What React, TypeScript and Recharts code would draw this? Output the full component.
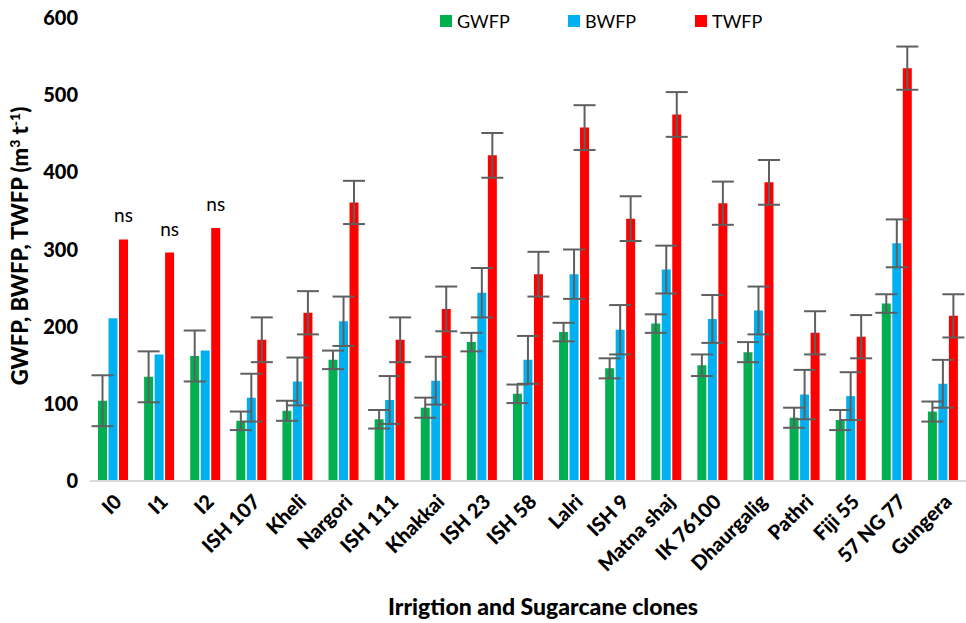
import React from 'react';
import { Bar, BarChart, ErrorBar, LabelList, XAxis, YAxis } from 'recharts';

const clones = ['I0', 'I1', 'I2', 'ISH 107', 'Kheli', 'Nargori', 'ISH 111', 'Khakkai', 'ISH 23', 'ISH 58', 'Lalri', 'ISH 9', 'Matna shaj', 'IK 76100', 'Dhaurgalig', 'Pathri', 'Fiji 55', '57 NG 77', 'Gungera'];
const gwfp = [104, 135, 162, 78, 91, 157, 80, 95, 180, 113, 193, 146, 204, 150, 167, 82, 79, 230, 90];
const gwfpErr = [33, 33, 33, 12, 13, 12, 12, 13, 12, 12, 12, 13, 12, 14, 13, 13, 13, 12, 13];
const bwfp = [211, 164, 169, 108, 129, 207, 105, 130, 244, 157, 268, 196, 274, 210, 221, 112, 110, 308, 126];
const bwfpErr = [0, 0, 0, 31, 31, 32, 31, 31, 32, 31, 32, 32, 31, 31, 31, 32, 31, 31, 31];
const twfp = [313, 296, 328, 183, 218, 361, 183, 223, 422, 268, 458, 340, 475, 360, 387, 192, 187, 535, 214];
const twfpErr = [0, 0, 0, 29, 28, 28, 29, 29, 29, 29, 29, 29, 29, 28, 29, 28, 28, 28, 28];
const notes = ['ns', 'ns', 'ns', '', '', '', '', '', '', '', '', '', '', '', '', '', '', '', ''];
const yTicks = [0, 100, 200, 300, 400, 500, 600];

const series = [
  { key: 'GWFP', err: 'gErr', color: '#00b050' },
  { key: 'BWFP', err: 'bErr', color: '#00b0f0' },
  { key: 'TWFP', err: 'tErr', color: '#ff0000' },
];

const data = clones.map((name, i) => ({
  name,
  GWFP: gwfp[i],
  gErr: gwfpErr[i],
  BWFP: bwfp[i],
  bErr: bwfpErr[i],
  TWFP: twfp[i],
  tErr: twfpErr[i],
  note: notes[i],
}));

const font = 'Lato, "Open Sans", sans-serif';

const XTick = ({ x, y, payload }: any) => (
  <g transform={`translate(${x},${y})`}>
    <text x={10} y={14} textAnchor="end" transform="rotate(-45 10 14)" fontFamily={font} fontWeight={900} fontSize={20} fill="#000">
      {payload.value}
    </text>
  </g>
);

const YLabel = () => (
  <text transform="translate(28,246) rotate(-90)" textAnchor="middle" fontFamily={font} fontWeight={900} fontSize={22} fill="#000">
    GWFP, BWFP, TWFP (m<tspan baselineShift="super" fontSize={14}>3</tspan> t<tspan baselineShift="super" fontSize={14}>-1</tspan>)
  </text>
);

const NoteLabel = ({ x, y, width, value }: any) =>
  value ? (
    <text x={x + width / 2} y={y - 17} textAnchor="middle" fontFamily={font} fontSize={19} fill="#000">
      {value}
    </text>
  ) : null;

const legendLeft = [440, 568, 695];

export default function App() {
  return (
    <div style={{ position: 'absolute', left: 0, top: 0, width: 966, height: 623, background: '#fff' }}>
      <BarChart width={966} height={623} data={data} margin={{ top: 18, right: 0, left: 0, bottom: 0 }} barSize={9} barGap={1.5}>
        <XAxis
          dataKey="name"
          interval={0}
          height={142}
          tick={<XTick />}
          tickLine={false}
          axisLine={{ stroke: '#d9d9d9', strokeWidth: 2 }}
          label={{ value: 'Irrigtion and Sugarcane clones', position: 'insideBottom', offset: 8, fontFamily: font, fontWeight: 900, fontSize: 23, fill: '#000', dx: 15 }}
        />
        <YAxis
          domain={[0, 600]}
          ticks={yTicks}
          width={90}
          axisLine={false}
          tickLine={false}
          tick={{ fontFamily: font, fontWeight: 900, fontSize: 20, fill: '#000' }}
          tickMargin={6}
          label={<YLabel />}
        />
        {series.map((s) => (
          <Bar key={s.key} dataKey={s.key} fill={s.color} isAnimationActive={false}>
            <ErrorBar dataKey={s.err} width={11} stroke="#5f5f5f" strokeWidth={2} />
            {s.key === 'TWFP' && <LabelList dataKey="note" content={<NoteLabel />} />}
          </Bar>
        ))}
      </BarChart>
      {series.map((s, i) => (
        <div key={s.key} style={{ position: 'absolute', left: legendLeft[i], top: 10, display: 'flex', alignItems: 'center', fontFamily: font, fontSize: 18, color: '#000' }}>
          <span style={{ width: 12, height: 12, background: s.color, marginRight: 5, display: 'inline-block' }} />
          {s.key}
        </div>
      ))}
    </div>
  );
}
